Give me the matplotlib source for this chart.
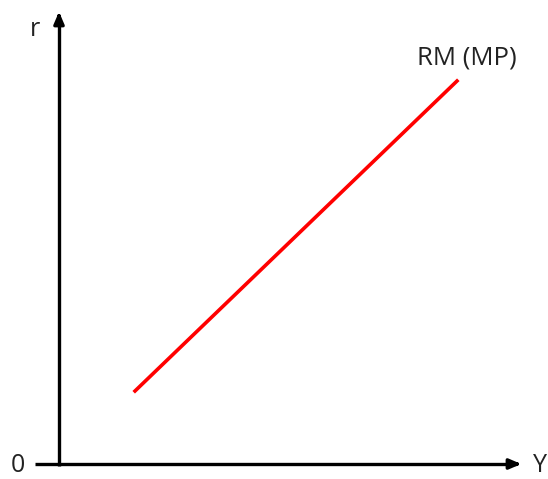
import matplotlib as mpl
mpl.use("Agg")
import matplotlib.pyplot as plt

# axes layout in picture coordinates (pixels, y downward)
origin = (59, 464)
x_axis_end = 524
y_axis_end = 9

# RM (MP) curve endpoints
rm_x = [135, 457]
rm_y = [391, 81]
rm_label = "RM (MP)"

fig = plt.figure(figsize=(5.48, 4.79), dpi=100)
ax = fig.add_axes([0, 0, 1, 1])
ax.set_xlim(0, 548)
ax.set_ylim(479, 0)
ax.axis("off")

# axes with arrowheads
ax.plot([35, x_axis_end - 8], [origin[1], origin[1]], color="black", lw=2.4, solid_capstyle="butt")
ax.plot([origin[0], origin[0]], [origin[1] + 2, y_axis_end + 8], color="black", lw=2.4, solid_capstyle="butt")
ax.annotate("", xy=(x_axis_end, origin[1]), xytext=(x_axis_end - 12, origin[1]),
            arrowprops=dict(arrowstyle="-|>,head_length=0.7,head_width=0.3", color="black", lw=2.4))
ax.annotate("", xy=(origin[0], y_axis_end), xytext=(origin[0], y_axis_end + 12),
            arrowprops=dict(arrowstyle="-|>,head_length=0.7,head_width=0.3", color="black", lw=2.4))

ax.plot(rm_x, rm_y, color="#ff0000", lw=2.6)

txt = dict(family="Open Sans", color="#222222")
ax.text(35, 29, "r", fontsize=18, ha="center", va="center", **txt)
ax.text(18, 466, "0", fontsize=18, ha="center", va="center", **txt)
ax.text(547, 466, "Y", fontsize=18, ha="right", va="center", **txt)
ax.text(467, 58, rm_label, fontsize=18.5, ha="center", va="center", **txt)

fig.savefig("out.png", dpi=100)
